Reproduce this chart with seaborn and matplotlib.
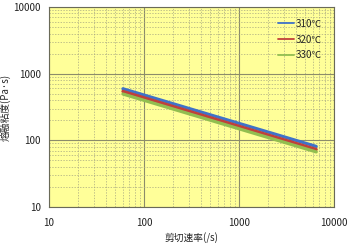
import matplotlib
matplotlib.use("Agg")
import matplotlib.pyplot as plt
import seaborn as sns
import pandas as pd
from matplotlib.ticker import LogLocator, FixedLocator, NullFormatter

sns.set_style("white")
plt.rcParams['font.family'] = ['Noto Sans CJK JP', 'DejaVu Sans']

shear_rate = [60, 6500]
visc_310 = [594, 81]
visc_320 = [542, 73]
visc_330 = [495, 67]
series = ["310℃", "320℃", "330℃"]
colors = ["#3F72C8", "#C0403A", "#92BE50"]
x_ticks = [10, 100, 1000, 10000]
y_ticks = [10, 100, 1000, 10000]

df = pd.concat([
    pd.DataFrame({"x": shear_rate, "y": v, "temp": s})
    for v, s in zip([visc_310, visc_320, visc_330], series)
])

fig = plt.figure(figsize=(3.5, 2.43), dpi=100)
ax = fig.add_axes([49/350, 1 - 207/243, 285/350, 200/243])
ax.set_facecolor("#FFFF99")

sns.lineplot(data=df, x="x", y="y", hue="temp", palette=colors, linewidth=2.3,
             ax=ax, legend=True)
ax.set_xscale("log")
ax.set_yscale("log")
ax.set_xlim(10, 10000)
ax.set_ylim(10, 10000)
ax.xaxis.set_major_locator(FixedLocator(x_ticks))
ax.yaxis.set_major_locator(FixedLocator(y_ticks))
ax.set_xticklabels([str(t) for t in x_ticks])
ax.set_yticklabels([str(t) for t in y_ticks])
ax.xaxis.set_minor_locator(LogLocator(base=10, subs=range(2, 10)))
ax.yaxis.set_minor_locator(LogLocator(base=10, subs=range(2, 10)))
ax.xaxis.set_minor_formatter(NullFormatter())
ax.yaxis.set_minor_formatter(NullFormatter())
ax.grid(which="major", color="#8C8C6A", linewidth=0.8, linestyle="-")
ax.grid(which="minor", color="#A8A882", linewidth=0.5, linestyle=(0, (2, 2)))
ax.set_axisbelow(True)
for sp in ax.spines.values():
    sp.set_color("#6A6A58")
    sp.set_linewidth(0.8)
ax.tick_params(axis="both", which="both", length=0, labelsize=7, pad=6, colors="#222222")
ax.tick_params(axis="x", pad=8)
ax.set_xlabel("剪切速率(/s)", fontsize=7, labelpad=3)
ax.set_ylabel("熔融粘度(Pa·s)", fontsize=7)
ax.yaxis.set_label_coords(-0.135, 0.5)

leg = ax.legend(title=None, loc="upper right", frameon=False, fontsize=7,
                handlelength=1.7, handletextpad=0.2, labelspacing=0.6,
                bbox_to_anchor=(0.99, 0.985))
for line in leg.get_lines():
    line.set_linewidth(1.3)

fig.savefig("out.png", dpi=100)
